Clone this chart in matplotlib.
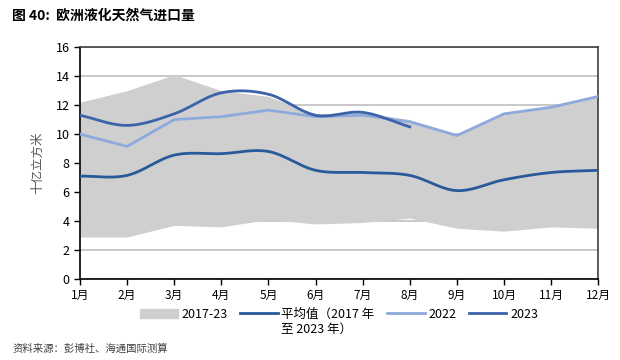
import numpy as np
import matplotlib.pyplot as plt
from matplotlib.patches import Patch
from matplotlib.lines import Line2D

plt.rcParams['font.family'] = ['Noto Sans CJK SC', 'DejaVu Sans']

months = ['1月', '2月', '3月', '4月', '5月', '6月', '7月', '8月', '9月', '10月', '11月', '12月']
band_high = [12.2, 13.0, 14.1, 13.0, 12.6, 11.4, 11.5, 11.0, 10.0, 11.5, 11.9, 12.7]
band_low = [2.9, 2.9, 3.7, 3.6, 4.1, 3.8, 3.9, 4.2, 3.5, 3.3, 3.6, 3.5]
avg_17_23 = [7.1, 7.15, 8.55, 8.65, 8.8, 7.5, 7.35, 7.15, 6.1, 6.85, 7.35, 7.5]
y2022 = [10.0, 9.15, 11.0, 11.2, 11.65, 11.2, 11.3, 10.85, 9.9, 11.4, 11.85, 12.6]
y2023 = [11.3, 10.6, 11.4, 12.85, 12.75, 11.3, 11.5, 10.5]


def smooth(y, n=20):
    # catmull-rom curve through the monthly points (like excel's smoothed line)
    y = np.asarray(y, dtype=float)
    x = np.arange(len(y))
    p = np.concatenate([[2 * y[0] - y[1]], y, [2 * y[-1] - y[-2]]])
    xs, ys = [], []
    for i in range(len(y) - 1):
        t = np.linspace(0, 1, n, endpoint=False)
        p0, p1, p2, p3 = p[i], p[i + 1], p[i + 2], p[i + 3]
        seg = 0.5 * (2 * p1 + (-p0 + p2) * t + (2 * p0 - 5 * p1 + 4 * p2 - p3) * t ** 2
                     + (-p0 + 3 * p1 - 3 * p2 + p3) * t ** 3)
        xs.append(x[i] + t)
        ys.append(seg)
    xs.append([x[-1]])
    ys.append([y[-1]])
    return np.concatenate(xs), np.concatenate(ys)


fig = plt.figure(figsize=(6.2, 3.6), dpi=100)
ax = fig.add_axes([0.129, 0.225, 0.836, 0.644])

x = np.arange(len(months))
ax.fill_between(x, band_low, band_high, color='#d0cfd0', lw=0, zorder=2)

c_avg = '#285a9a'
c_22 = '#8eaadc'
c_23 = '#3a63aa'
ax.plot(x, y2022, color=c_22, lw=2, zorder=3)
xs, ys = smooth(avg_17_23)
ax.plot(xs, ys, color=c_avg, lw=2, zorder=4)
xs, ys = smooth(y2023)
ax.plot(xs, ys, color=c_23, lw=2, zorder=5)

ax.set_xlim(0, 11)
ax.set_ylim(0, 16)
ax.set_yticks(range(0, 17, 2))
ax.set_xticks(x)
ax.set_xticklabels(months, fontsize=8.5)
ax.tick_params(axis='y', labelsize=9)
ax.tick_params(direction='out', length=4, width=1)
ax.yaxis.grid(True, color='#bfbfbf', lw=1.2, zorder=1)
ax.set_axisbelow(True)
for s in ['left', 'bottom']:
    ax.spines[s].set_color('black')
    ax.spines[s].set_linewidth(1.2)
for s in ['top', 'right']:
    ax.spines[s].set_color('#404040')
    ax.spines[s].set_linewidth(1.2)
ax.set_ylabel('十亿立方米', fontsize=9, color='#595959', labelpad=8)

handles = [Patch(color='#d0cfd0'),
           Line2D([], [], color=c_avg, lw=2),
           Line2D([], [], color=c_22, lw=2),
           Line2D([], [], color=c_23, lw=2)]
labels = ['2017-23', '平均值（2017 年', '2022', '2023']
leg = ax.legend(handles, labels, loc='upper center', bbox_to_anchor=(0.5, -0.075), ncol=4,
                frameon=False, fontsize=9, handlelength=3, columnspacing=1.0, handletextpad=0.3)

# second line of the average label sits under its first line
fig.canvas.draw()
t = leg.get_texts()[1]
bb = t.get_window_extent().transformed(fig.transFigure.inverted())
fig.text(bb.x0, bb.y0 - 0.005, '至 2023 年）', fontsize=9, va='top', ha='left')

fig.text(0.02, 0.945, '图 40:  欧洲液化天然气进口量', fontsize=10, fontweight='bold')
fig.text(0.02, 0.022, '资料来源：彭博社、海通国际测算', fontsize=7.5, color='#404040')

fig.savefig('out.png', dpi=100)
